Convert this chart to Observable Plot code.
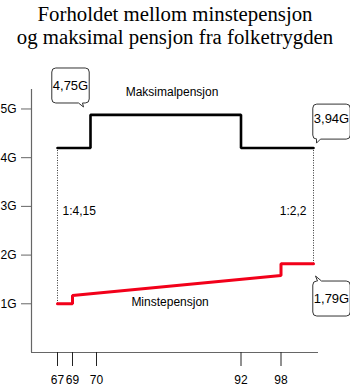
<!DOCTYPE html>
<html><head><meta charset="utf-8">
<script src="https://cdn.jsdelivr.net/npm/d3@7"></script>
<script src="https://cdn.jsdelivr.net/npm/@observablehq/plot@0.6"></script>
<style>
body{margin:0;background:#fff;width:350px;height:389px;overflow:hidden}
#title{font-family:"Liberation Serif","Times New Roman",serif;font-size:20.8px;line-height:23px;text-align:center;height:53px;padding-top:2px;color:#000}
#chart svg{display:block}
</style></head><body>
<div id="title">Forholdet mellom minstepensjon<br>og maksimal pensjon fra folketrygden</div>
<div id="chart"></div>
<script>
// ---- data ----
const xTicks = [67, 69, 70, 92, 98];
const yTicks = [1, 2, 3, 4, 5];
const maxYears  = [67, 69.75, 69.75, 92, 92, 103];
const maxValues = [4.2, 4.2, 4.88, 4.88, 4.2, 4.2];
const minYears  = [67, 69, 69, 98, 98, 103];
const minValues = [1.0, 1.0, 1.17, 1.58, 1.82, 1.82];
const seriesNames  = ["Maksimalpensjon", "Minstepensjon"];
const seriesYears  = [81.5, 81.2];
const seriesValues = [5.34, 1.03];
const ratioLabels = ["1:4,15", "1:2,2"];
const ratioYears  = [67, 103];
const ratioValue  = 2.9;
const calloutLabels = ["4,75G", "3,94G", "1,79G"];
const calloutYears  = [69.75, 103, 103];
const calloutValues = [4.88, 4.2, 1.82];

// the time axis of the original is not to scale: piecewise spacing of the years
const axisYears = [63, 67, 69, 70, 92, 98, 103, 104];
const axisSpacing = [0, 26, 41, 65, 209.5, 249.5, 282, 287];
const yearPos = d3.scaleLinear().domain(axisYears).range(axisSpacing);

// ---- derived tables ----
const maxData = maxYears.map((x, i) => ({x, y: maxValues[i]}));
const minData = minYears.map((x, i) => ({x, y: minValues[i]}));
const dotted = [
  {x: maxYears[0], y1: maxValues[0], y2: minValues[0]},
  {x: maxYears[maxYears.length - 1], y1: maxValues[maxValues.length - 1], y2: minValues[minValues.length - 1]}
];
const seriesData = seriesNames.map((t, i) => ({t, x: seriesYears[i], y: seriesValues[i]}));

// callout styling (offsets from the annotated point, tail geometry)
const calloutStyle = [
  {dx: -20, dy: -29, shift: 0, side: "bottom", a: 8, b: 12, tip: 13, len: 4},
  {dx: 18, dy: -29, shift: 3, side: "bottom", a: -15, b: -11, tip: -15, len: 4},
  {dx: 18, dy: 35, shift: 0, side: "top", a: -14, b: -10, tip: -16, len: 5}
];

const font = "'Liberation Sans', Arial, sans-serif";

const plot = Plot.plot({
  width: 350, height: 334,
  marginTop: 34, marginBottom: 37, marginLeft: 31, marginRight: 32,
  x: {type: "linear", transform: yearPos, domain: [0, 287]},
  y: {domain: [0, 5.4]},
  style: {fontFamily: font, fontSize: "12px", color: "#000", background: "#fff", overflow: "visible"},
  marks: [
    Plot.ruleX([axisYears[0]], {stroke: "#666", strokeWidth: 1.2}),
    Plot.ruleY([0], {stroke: "#666", strokeWidth: 1.2}),
    Plot.axisX(xTicks, {tickSize: 14, tickPadding: 9, tickFormat: d => String(d), label: null, stroke: "#222", fontSize: 12}),
    Plot.axisY(yTicks, {tickSize: 10, tickPadding: 5, tickFormat: d => d + "G", label: null, stroke: "#666", fontSize: 12}),
    Plot.ruleX(dotted, {x: "x", y1: "y1", y2: "y2", stroke: "#333", strokeWidth: 1, strokeDasharray: "1,1.5"}),
    Plot.line(maxData, {x: "x", y: "y", stroke: "#000", strokeWidth: 2.6, strokeLinejoin: "miter"}),
    Plot.line(minData, {x: "x", y: "y", stroke: "#f2001a", strokeWidth: 3, strokeLinejoin: "miter"}),
    Plot.text(seriesData, {x: "x", y: "y", text: "t", fontSize: 12}),
    Plot.text([0], {x: () => ratioYears[0], y: () => ratioValue, text: () => ratioLabels[0], textAnchor: "start", dx: 5, fontSize: 12}),
    Plot.text([1], {x: () => ratioYears[1], y: () => ratioValue, text: () => ratioLabels[1], textAnchor: "end", dx: -7, fontSize: 12}),
    ...calloutLabels.map((lab, i) => Plot.text([i], {
      x: () => calloutYears[i], y: () => calloutValues[i], text: () => lab,
      dx: calloutStyle[i].dx, dy: calloutStyle[i].dy, fontSize: 13
    }))
  ]
});
document.getElementById("chart").appendChild(plot);

// draw rounded callout boxes behind the callout labels
const texts = Array.from(plot.querySelectorAll("text"));
calloutLabels.forEach((lab, i) => {
  const st = calloutStyle[i];
  const t = texts.find(el => el.textContent === lab);
  if (!t) return;
  const bb = t.getBBox();
  const cx = bb.x + bb.width / 2;
  const cy = bb.y + bb.height / 2 + st.shift;
  const w = bb.width + 2, h = 35, r = 4;
  const x0 = cx - w / 2, x1 = cx + w / 2, y0 = cy - h / 2, y1 = cy + h / 2;
  let p = `M${x0 + r},${y0}`;
  if (st.side === "top") p += `L${cx + st.a},${y0}L${cx + st.tip},${y0 - st.len}L${cx + st.b},${y0}`;
  p += `L${x1 - r},${y0}Q${x1},${y0} ${x1},${y0 + r}L${x1},${y1 - r}Q${x1},${y1} ${x1 - r},${y1}`;
  if (st.side === "bottom") p += `L${cx + st.b},${y1}L${cx + st.tip},${y1 + st.len}L${cx + st.a},${y1}`;
  p += `L${x0 + r},${y1}Q${x0},${y1} ${x0},${y1 - r}L${x0},${y0 + r}Q${x0},${y0} ${x0 + r},${y0}Z`;
  const path = document.createElementNS("http://www.w3.org/2000/svg", "path");
  path.setAttribute("d", p);
  path.setAttribute("fill", "#fff");
  path.setAttribute("stroke", "#333");
  path.setAttribute("stroke-width", "1");
  const tr = t.getAttribute("transform");
  if (tr) path.setAttribute("transform", tr);
  t.parentNode.insertBefore(path, t);
});
</script>
</body></html>
